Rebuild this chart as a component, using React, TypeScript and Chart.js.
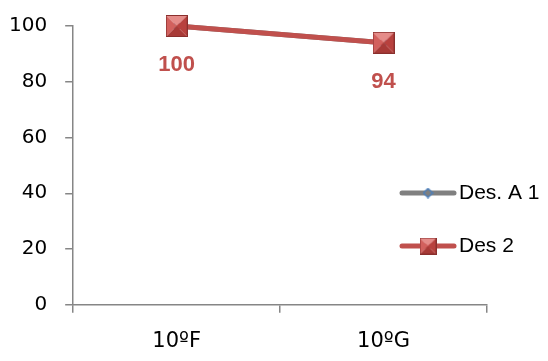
import React, { useEffect, useRef } from 'react';
import { Chart, registerables } from 'chart.js';

Chart.register(...registerables);

const categories = ['10ºF', '10ºG'];
const seriesNames = ['Des. A 1', 'Des 2'];
const desA1Values = [100, 94];
const des2Values = [100, 94];
const yMin = 0;
const yMax = 100;
const yStep = 20;

const FONT = "'Liberation Sans', Arial, sans-serif";
const XFONT = "'DejaVu Sans', sans-serif";
const RED = '#c0504d';
const GRAY = '#808080';

function makeSquare(size: number): HTMLCanvasElement {
  const c = document.createElement('canvas');
  c.width = size;
  c.height = size;
  const ctx = c.getContext('2d')!;
  const s = size;
  const m = s / 2;
  const tri = (pts: number[][], color: string) => {
    ctx.beginPath();
    ctx.moveTo(pts[0][0], pts[0][1]);
    for (let i = 1; i < pts.length; i++) ctx.lineTo(pts[i][0], pts[i][1]);
    ctx.closePath();
    ctx.fillStyle = color;
    ctx.fill();
  };
  tri([[0, 0], [s, 0], [m, m]], '#e58c89');
  tri([[0, 0], [m, m], [0, s]], '#d2605d');
  tri([[s, 0], [s, s], [m, m]], '#b8413e');
  tri([[0, s], [m, m], [s, s]], '#a83a37');
  ctx.strokeStyle = '#8a2f2d';
  ctx.lineWidth = 1;
  ctx.strokeRect(0.5, 0.5, s - 1, s - 1);
  return c;
}

function makeDiamond(size: number): HTMLCanvasElement {
  const c = document.createElement('canvas');
  c.width = size;
  c.height = size;
  const ctx = c.getContext('2d')!;
  const m = size / 2;
  ctx.beginPath();
  ctx.moveTo(m, 1);
  ctx.lineTo(size - 1, m);
  ctx.lineTo(m, size - 1);
  ctx.lineTo(1, m);
  ctx.closePath();
  ctx.fillStyle = '#7f7f7f';
  ctx.fill();
  ctx.strokeStyle = '#4a7ebb';
  ctx.lineWidth = 1.5;
  ctx.stroke();
  return c;
}

export default function App() {
  const ref = useRef<HTMLCanvasElement | null>(null);

  useEffect(() => {
    document.body.style.margin = '0';
    const canvas = ref.current;
    if (!canvas) return;
    const bigSquare = makeSquare(22);
    const smallSquare = makeSquare(17);
    const diamond = makeDiamond(11);

    const dataLabels = {
      id: 'dataLabels',
      afterDatasetsDraw(chart: any) {
        const meta = chart.getDatasetMeta(1);
        const ctx = chart.ctx;
        ctx.save();
        ctx.font = `bold 22px ${FONT}`;
        ctx.fillStyle = RED;
        ctx.textAlign = 'center';
        ctx.textBaseline = 'middle';
        meta.data.forEach((pt: any, i: number) => {
          ctx.fillText(String(des2Values[i]), pt.x, pt.y + 39);
        });
        ctx.restore();
      },
    };

    const legend = {
      id: 'customLegend',
      afterDraw(chart: any) {
        const ctx = chart.ctx;
        const items = [
          { y: 193, color: GRAY, img: diamond, name: seriesNames[0] },
          { y: 246, color: RED, img: smallSquare, name: seriesNames[1] },
        ];
        ctx.save();
        items.forEach((it) => {
          ctx.beginPath();
          ctx.strokeStyle = it.color;
          ctx.lineWidth = 5;
          ctx.lineCap = 'round';
          ctx.moveTo(402, it.y);
          ctx.lineTo(454, it.y);
          ctx.stroke();
          ctx.drawImage(it.img, 428 - it.img.width / 2, it.y - it.img.height / 2);
          ctx.font = `21px ${FONT}`;
          ctx.fillStyle = '#000';
          ctx.textAlign = 'left';
          ctx.textBaseline = 'middle';
          ctx.fillText(it.name, 459, it.y);
        });
        ctx.restore();
      },
    };

    const chart = new Chart(canvas, {
      type: 'line',
      data: {
        labels: categories,
        datasets: [
          {
            label: seriesNames[0],
            data: desA1Values,
            borderColor: GRAY,
            borderWidth: 5,
            pointStyle: diamond as any,
            order: 2,
            clip: false as any,
          },
          {
            label: seriesNames[1],
            data: des2Values,
            borderColor: RED,
            borderWidth: 5,
            pointStyle: bigSquare as any,
            order: 1,
            clip: false as any,
          },
        ],
      },
      options: {
        animation: false,
        responsive: false,
        maintainAspectRatio: false,
        layout: { padding: { left: -9, right: 61, top: 26, bottom: -9 } },
        plugins: {
          legend: { display: false },
          tooltip: { enabled: false },
        },
        scales: {
          x: {
            offset: true,
            grid: {
              offset: true,
              drawOnChartArea: false,
              drawTicks: true,
              tickLength: 8,
              color: '#868686',
              lineWidth: 1.5,
            },
            border: { color: '#868686', width: 1.5 },
            ticks: {
              color: '#000',
              font: { family: XFONT, size: 21 },
              padding: 16,
            },
          },
          y: {
            min: yMin,
            max: yMax,
            ticks: {
              stepSize: yStep,
              color: '#000',
              font: { family: XFONT, size: 20, lineHeight: 0.4 },
              padding: 18,
            },
            grid: {
              drawOnChartArea: false,
              drawTicks: true,
              tickLength: 8,
              color: '#868686',
              lineWidth: 1.5,
            },
            border: { color: '#868686', width: 1.5 },
          },
        },
      },
      plugins: [dataLabels, legend],
    });
    return () => chart.destroy();
  }, []);

  return (
    <div style={{ width: 548, height: 361 }}>
      <canvas ref={ref} width={548} height={361} style={{ display: 'block' }} />
    </div>
  );
}
